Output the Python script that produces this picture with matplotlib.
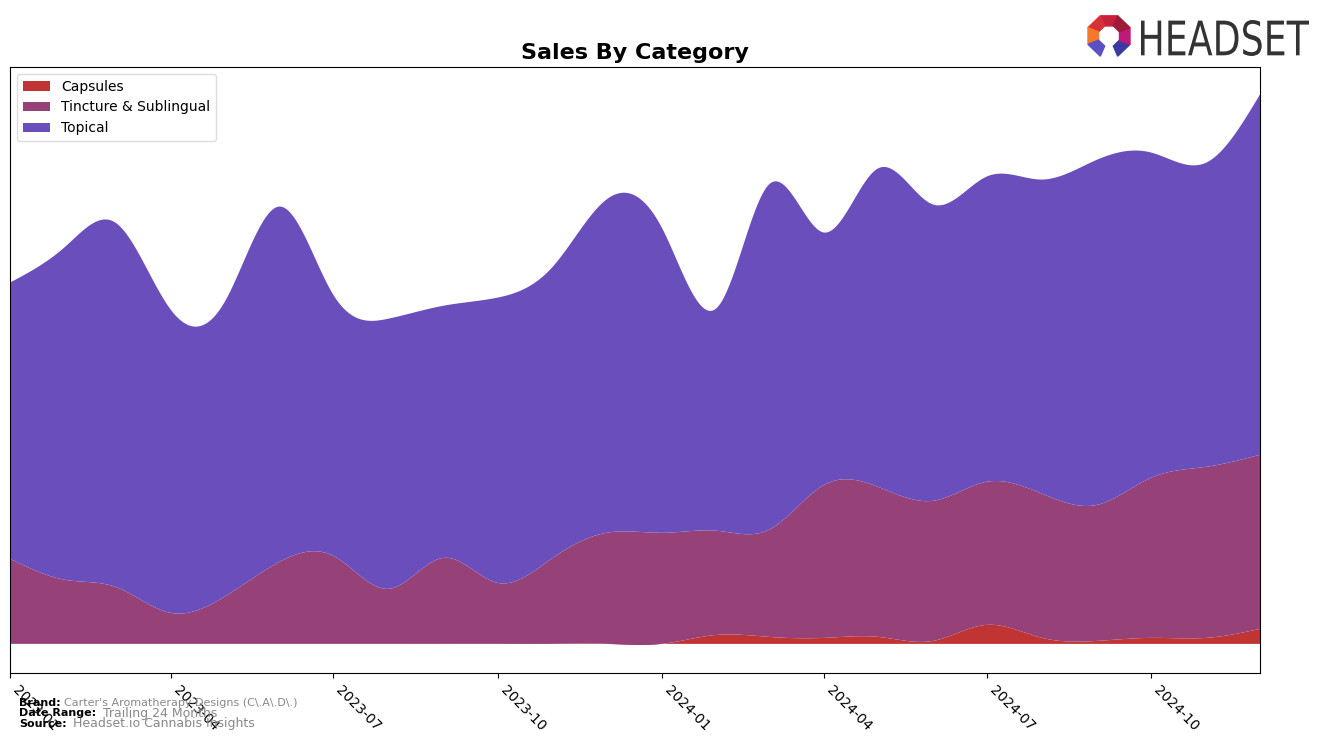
import numpy as np
import pandas as pd
import matplotlib
matplotlib.use("Agg")
import matplotlib.pyplot as plt
import matplotlib.dates as mdates
from matplotlib.patches import Polygon, PathPatch
from matplotlib.textpath import TextPath
from matplotlib.font_manager import FontProperties
from matplotlib.transforms import Affine2D

months = pd.date_range("2023-01-01", "2024-12-01", freq="MS")
categories = ["Capsules", "Tincture & Sublingual", "Topical"]
colors = ["#c13434", "#964279", "#6a4ebc"]

capsules = [0, 0, 0, 0, 0, 0, 0, 0, 0, 0, 0, 0,
            0, 9, 7, 6, 7, 3, 19, 6, 3, 6, 6, 15]
tincture = [85, 64, 57, 31, 47, 82, 88, 55, 86, 61, 86, 111,
            111, 104, 107, 153, 150, 140, 143, 144, 136, 160, 171, 174]
total = [361, 397, 421, 334, 341, 437, 349, 325, 338, 346, 377, 444,
         416, 336, 459, 411, 475, 439, 467, 464, 484, 491, 481, 549]
topical = [t - a - b for t, a, b in zip(total, capsules, tincture)]

tick_dates = pd.date_range("2023-01-01", "2024-10-01", freq="3MS")
tick_labels = [d.strftime("%Y-%m") for d in tick_dates]


def natural_spline(x, y, xs):
    x = np.asarray(x, float)
    y = np.asarray(y, float)
    n = len(x)
    h = np.diff(x)
    A = np.zeros((n, n))
    r = np.zeros(n)
    A[0, 0] = 1
    A[-1, -1] = 1
    for i in range(1, n - 1):
        A[i, i - 1] = h[i - 1]
        A[i, i] = 2 * (h[i - 1] + h[i])
        A[i, i + 1] = h[i]
        r[i] = 3 * ((y[i + 1] - y[i]) / h[i] - (y[i] - y[i - 1]) / h[i - 1])
    c = np.linalg.solve(A, r)
    b = (y[1:] - y[:-1]) / h - h * (2 * c[:-1] + c[1:]) / 3
    d = (c[1:] - c[:-1]) / (3 * h)
    idx = np.clip(np.searchsorted(x, xs) - 1, 0, n - 2)
    dx = xs - x[idx]
    return y[idx] + b[idx] * dx + c[idx] * dx ** 2 + d[idx] * dx ** 3


xn = mdates.date2num(months)
xs = np.linspace(xn[0], xn[-1], 800)
smooth = [natural_spline(xn, s, xs) for s in (capsules, tincture, topical)]

fig = plt.figure(figsize=(13.24, 7.43), dpi=100)
ax = fig.add_axes([10 / 1324, 70 / 743, 1250 / 1324, 606 / 743])
ax.stackplot(xs, *smooth, labels=categories, colors=colors)

top = max(total)
ax.set_xlim(xn[0], xn[-1])
ax.set_ylim(-0.053 * top, 1.05 * top)
ax.set_yticks([])
ax.set_xticks(mdates.date2num(tick_dates))
ax.set_xticklabels(tick_labels, rotation=-45, ha="left", fontsize=10)
ax.set_title("Sales By Category", fontsize=16, fontweight="bold", pad=6)
ax.legend(loc="upper left", fontsize=10, framealpha=1, edgecolor="#dddddd")

# footer
gray = "#888888"
fig.text(19 / 1324, 1 - 703 / 743, "Brand:", fontsize=8, fontweight="bold", va="center")
fig.text(64 / 1324, 1 - 703 / 743, "Carter's Aromatherapy Designs (C\\.A\\.D\\.)", fontsize=8, color=gray, va="center")
fig.text(19 / 1324, 1 - 713 / 743, "Date Range:", fontsize=8, fontweight="bold", va="center")
fig.text(103 / 1324, 1 - 713 / 743, "Trailing 24 Months", fontsize=9, color=gray, va="center")
fig.text(19 / 1324, 1 - 724 / 743, "Source:", fontsize=8, fontweight="bold", va="center")
fig.text(73 / 1324, 1 - 724 / 743, "Headset.io Cannabis Insights", fontsize=9, color=gray, va="center")

# logo word, squeezed into its box (pixel units)
tax = fig.add_axes([1141 / 1324, 1 - 56 / 743, 168 / 1324, 36 / 743])
tax.set_xlim(0, 168)
tax.set_ylim(0, 36)
tax.axis("off")
tp = TextPath((0, 0), "HEADSET", size=50, prop=FontProperties(family="DejaVu Sans"))
ext = tp.get_extents()
sx = 168 / ext.width
sy = 36 / ext.height
tp = Affine2D().translate(-ext.x0, -ext.y0).scale(sx, sy).transform_path(tp)
tax.add_patch(PathPatch(tp, color="#333333", lw=0))

# logo mark
lax = fig.add_axes([1084 / 1324, 1 - 60 / 743, 50 / 1324, 48 / 743])
lax.set_xlim(-1.1, 1.1)
lax.set_ylim(-1.1, 1.1)
lax.axis("off")
seg_centers = [90, 135, 180, 225, 315, 0, 45]
seg_colors = ["#c8203a", "#d83038", "#f37a2a", "#5b4fc4", "#3a3aa0", "#c01a78", "#a01a3a"]
for cdeg, col in zip(seg_centers, seg_colors):
    a0 = np.deg2rad(cdeg - 22.5)
    a1 = np.deg2rad(cdeg + 22.5)
    pts = [(np.cos(a0), np.sin(a0)), (np.cos(a1), np.sin(a1)),
           (0.5 * np.cos(a1), 0.5 * np.sin(a1)), (0.5 * np.cos(a0), 0.5 * np.sin(a0))]
    lax.add_patch(Polygon(pts, closed=True, color=col))

fig.savefig("out.png", dpi=100)
